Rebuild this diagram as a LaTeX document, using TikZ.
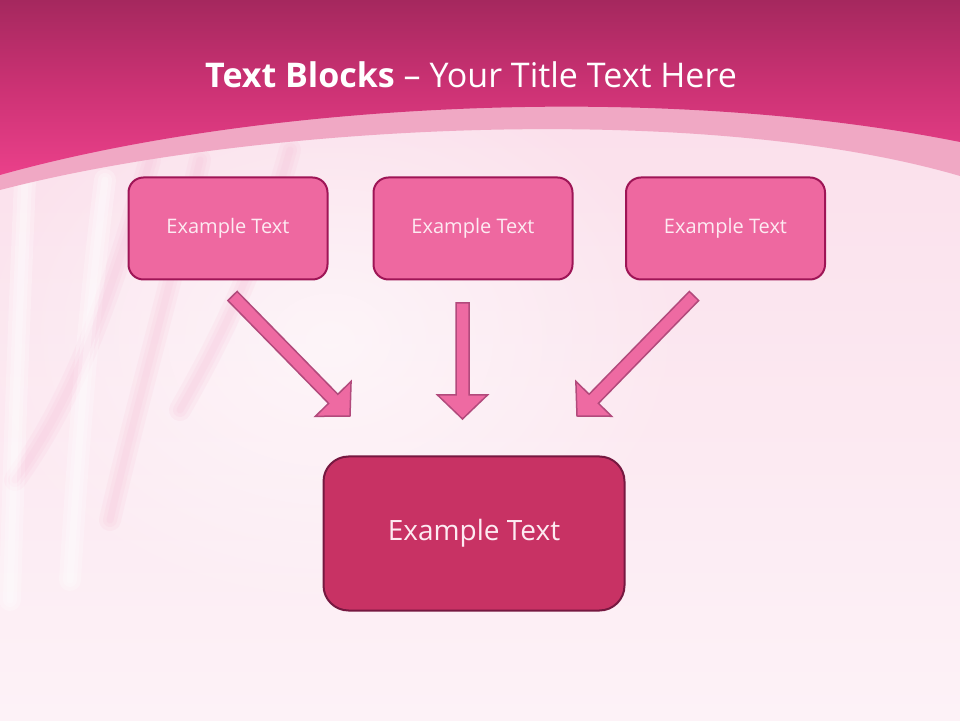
\documentclass[tikz,border=0pt]{standalone}
\usepackage{fontspec}
\setmainfont{Open Sans}
\usetikzlibrary{calc,fadings}
\definecolor{bandtop}{HTML}{A5285E}
\definecolor{bandmid}{HTML}{CC3274}
\definecolor{bandbot}{HTML}{EA408A}
\definecolor{stripe}{HTML}{F0A8C4}
\definecolor{bgtop}{HTML}{FADCE9}
\definecolor{bgbot}{HTML}{FDF2F7}
\definecolor{fold}{HTML}{F4B6D2}
\definecolor{smallfill}{HTML}{EE68A0}
\definecolor{smalledge}{HTML}{9E1556}
\definecolor{bigfill}{HTML}{C83264}
\definecolor{bigedge}{HTML}{761840}
\definecolor{arrfill}{HTML}{EE6AA2}
\definecolor{arredge}{HTML}{B24A7C}
\definecolor{boxtext}{HTML}{FDEBF2}
\tikzfading[name=myglow, inner color=transparent!0, outer color=transparent!100]
\tikzset{
  x=1pt, y=1pt,
  smallbox/.style={draw=smalledge, fill=smallfill, line width=2pt, rounded corners=15pt,
    minimum width=199pt, minimum height=102pt, inner sep=0pt, text=boxtext, font=\fontsize{20}{24}\selectfont},
  bigbox/.style={draw=bigedge, fill=bigfill, line width=2pt, rounded corners=25pt,
    minimum width=301pt, minimum height=154pt, inner sep=0pt, text=boxtext, font=\fontsize{28}{32}\selectfont},
  blockarrow/.style={draw=arredge, fill=arrfill, line width=1.5pt, line join=miter},
  softfold/.style={fold, line cap=round, opacity=0.12},
  softlight/.style={white, line cap=round, opacity=0.25},
}
% block arrow from coordinate #1 to coordinate #2, prefix #3
\newcommand\myblockarrow[3]{%
  \path coordinate (#3n) at ($(#2)!24pt!(#1)$);
  \draw[blockarrow] ($(#1)!6.5pt!90:(#2)$) -- ($(#3n)!6.5pt!90:(#2)$) -- ($(#3n)!25pt!90:(#2)$)
    -- (#2) -- ($(#3n)!25pt!-90:(#2)$) -- ($(#3n)!6.5pt!-90:(#2)$) -- ($(#1)!6.5pt!-90:(#2)$) -- cycle;}
\begin{document}
\begin{tikzpicture}
\useasboundingbox (0,0) rectangle (960,720);
% background
\shade[top color=bgtop, bottom color=bgbot] (0,0) rectangle (960,720);
\fill[white, opacity=0.6, path fading=myglow, fit fading=true] (330,380) ellipse (360 and 280);
% soft folds on the left
\foreach \w in {22,14,7} {
  \draw[softfold, line width=\w pt] (150,560) .. controls (115,440) and (80,330) .. (15,240);
  \draw[softfold, line width=\w pt] (200,560) .. controls (170,430) and (140,330) .. (110,200);
  \draw[softfold, line width=\w pt] (290,570) .. controls (260,460) and (220,380) .. (180,310);
  \draw[softlight, line width=\w pt] (25,540) .. controls (20,420) and (15,300) .. (10,120);
  \draw[softlight, line width=\w pt] (105,540) .. controls (90,420) and (80,300) .. (70,140);
}
% light stripe
\fill[stripe] (0,720) -- (960,720) -- (960,544) .. controls (700,620) and (250,595) .. (0,530) -- cycle;
% dark top band
\shade[top color=bandtop, bottom color=bandbot, middle color=bandmid] (0,720) -- (960,720) -- (960,578)
  .. controls (650,640) and (250,615) .. (0,545) -- cycle;
% title
\node[anchor=base, text=white, font=\fontsize{34}{40}\selectfont, inner sep=0pt] (title) at (471,632)
  {\textbf{Text Blocks} – Your Title Text Here};
% boxes
\node[smallbox] (b1) at (228,491.5) {Example Text};
\node[smallbox] (b2) at (473,491.5) {Example Text};
\node[smallbox] (b3) at (725.5,491.5) {Example Text};
\node[bigbox] (b4) at (474,186.5) {Example Text};
% arrows
\coordinate (a1s) at (232.5,424);
\coordinate (a1e) at (350,304);
\coordinate (a2s) at (462.5,417);
\coordinate (a2e) at (462.5,301);
\coordinate (a3s) at (694,424);
\coordinate (a3e) at (577,304);
\myblockarrow{a1s}{a1e}{p}
\myblockarrow{a2s}{a2e}{q}
\myblockarrow{a3s}{a3e}{r}
\end{tikzpicture}
\end{document}
